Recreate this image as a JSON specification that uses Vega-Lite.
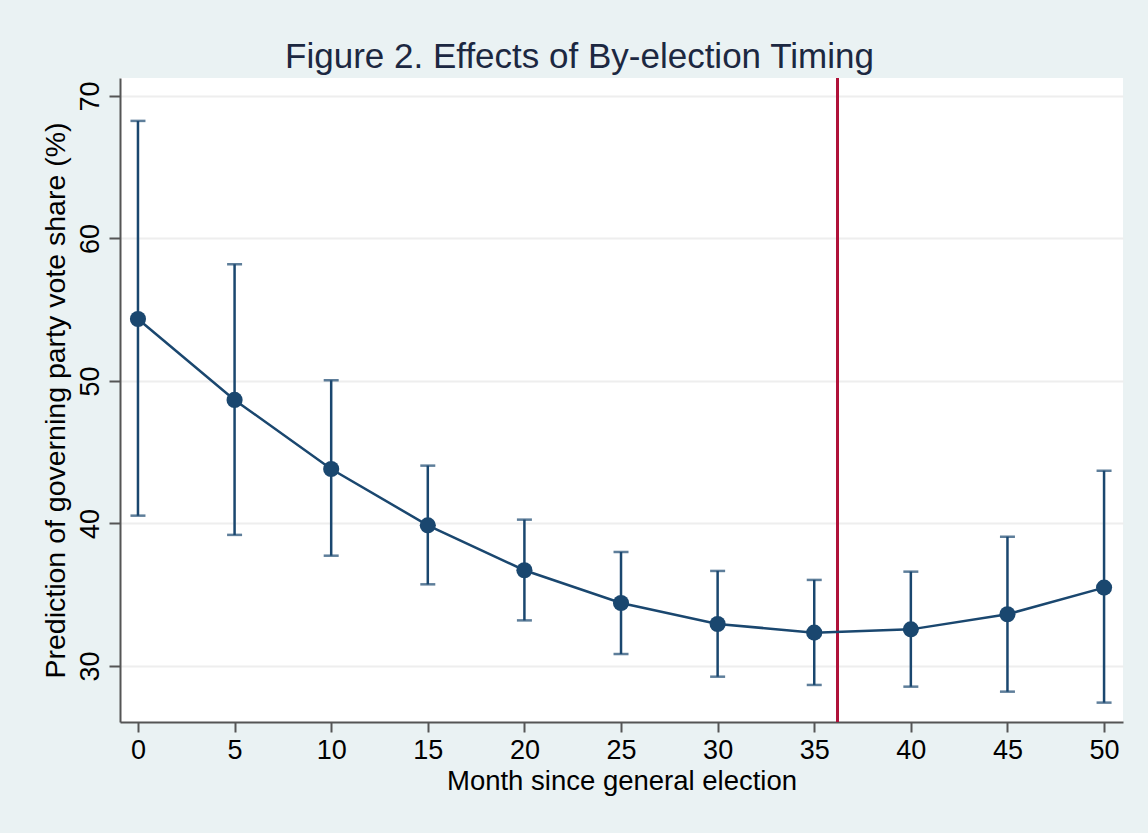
{
  "$schema": "https://vega.github.io/schema/vega-lite/v6.json",
  "width": 1003,
  "height": 644,
  "autosize": {"type": "none"},
  "padding": {"left": 120, "top": 78, "right": 25, "bottom": 111},
  "background": "#EAF2F3",
  "title": {
    "text": "Figure 2. Effects of By-election Timing",
    "font": "Liberation Sans",
    "fontSize": 35,
    "fontWeight": "normal",
    "color": "#1c2841",
    "anchor": "middle",
    "baseline": "alphabetic",
    "offset": 11,
    "dx": -42,
    "dy": 37
  },
  "config": {
    "view": {"fill": "white", "stroke": null},
    "font": "Liberation Sans",
    "axis": {
      "labelFont": "Liberation Sans",
      "titleFont": "Liberation Sans",
      "labelColor": "#000000",
      "titleColor": "#000000",
      "titleFontWeight": "normal",
      "domainColor": "#555555",
      "domainWidth": 2,
      "tickColor": "#555555",
      "tickWidth": 2
    }
  },
  "data": {
    "values": [
      {"month": 0, "pred": 54.35, "lo": 40.55, "hi": 68.25},
      {"month": 5, "pred": 48.67, "lo": 39.2, "hi": 58.19},
      {"month": 10, "pred": 43.82, "lo": 37.74, "hi": 50.05},
      {"month": 15, "pred": 39.87, "lo": 35.73, "hi": 44.06},
      {"month": 20, "pred": 36.72, "lo": 33.2, "hi": 40.27},
      {"month": 25, "pred": 34.42, "lo": 30.84, "hi": 38.0},
      {"month": 30, "pred": 32.95, "lo": 29.25, "hi": 36.67},
      {"month": 35, "pred": 32.34, "lo": 28.67, "hi": 36.04},
      {"month": 40, "pred": 32.57, "lo": 28.55, "hi": 36.62},
      {"month": 45, "pred": 33.63, "lo": 28.2, "hi": 39.07},
      {"month": 50, "pred": 35.5, "lo": 27.43, "hi": 43.7}
    ]
  },
  "encoding": {
    "x": {
      "field": "month",
      "type": "quantitative",
      "scale": {"domain": [-0.93, 50.98], "nice": false, "zero": false},
      "axis": {
        "values": [0, 5, 10, 15, 20, 25, 30, 35, 40, 45, 50],
        "grid": false,
        "labelFontSize": 27,
        "tickSize": 10,
        "labelPadding": 5,
        "title": "Month since general election",
        "titleFontSize": 27.5,
        "titlePadding": 4
      }
    }
  },
  "layer": [
    {
      "mark": {"type": "rule", "color": "#B0123A", "strokeWidth": 2},
      "encoding": {"x": {"datum": 36.2}}
    },
    {
      "mark": {
        "type": "errorbar",
        "color": "#1A476F",
        "ticks": {"size": 15, "thickness": 2.5},
        "rule": {"strokeWidth": 2.5}
      },
      "encoding": {
        "y": {
          "field": "lo",
          "type": "quantitative",
          "scale": {"domain": [26.07, 71.26], "nice": false, "zero": false},
          "axis": {
            "values": [30, 40, 50, 60, 70],
            "grid": true,
            "gridColor": "#EEEEEE",
            "gridWidth": 2,
            "labelAngle": -90,
            "labelAlign": "center",
            "labelBaseline": "bottom",
            "labelFontSize": 27,
            "labelPadding": 5,
            "tickSize": 11,
            "title": "Prediction of governing party vote share (%)",
            "titleFontSize": 28.5,
            "titlePadding": 6
          }
        },
        "y2": {"field": "hi"}
      }
    },
    {
      "mark": {"type": "line", "color": "#1A476F", "strokeWidth": 2.5},
      "encoding": {"y": {"field": "pred", "type": "quantitative"}}
    },
    {
      "mark": {"type": "point", "filled": true, "color": "#1A476F", "opacity": 1, "size": 260},
      "encoding": {"y": {"field": "pred", "type": "quantitative"}}
    }
  ]
}
